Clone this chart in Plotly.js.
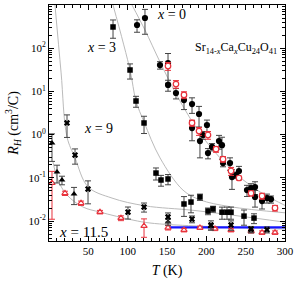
<!DOCTYPE html>
<html><head><meta charset="utf-8">
<script src="https://cdn.plot.ly/plotly-3.0.1.min.js"></script>
<style>html,body{margin:0;padding:0;background:#fff}</style>
</head><body><div id="chart" style="width:295px;height:282px"></div>
<script>
// x = 0 (black filled circles)
const x0_T = [111.9,122.0,141.1,151.3,151.3,161.4,171.6,181.8,190.7,181.8,200.8,195.8,191.9,202.1,207.2,216.1,219.9,221.2,230.1,232.6,237.7,241.5,251.7,256.8,261.9,261.9,270.8,277.1,282.2];
const x0_R = [344,500,40.8,45.4,14.1,9.2,6.3,5.1,3.0,1.42,1.67,0.98,0.71,0.375,0.52,0.71,0.57,0.22,0.22,0.104,0.116,0.144,0.052,0.058,0.061,0.036,0.029,0.034,0.032];
const x0_err = [110,290,8,30,4,2.5,2.5,2,1.5,0.7,0.5,0.2,0.42,0.1,0.1,0.25,0.3,0.04,0.07,0.05,0.02,0.04,0.015,0.015,0.02,0.015,0.01,0.008,0.006];
// x = 0 (red open circles)
const x0r_T = [151.3,161.4,171.6,181.8,190.7,202.1,212.3,221.2,231.4,241.5,256.8,270.8,287.3];
const x0r_R = [38.7,14.8,8.3,1.86,1.21,0.98,0.46,0.27,0.144,0.099,0.044,0.038,0.020];
const x0r_err = [8,3,1.5,0.3,0.25,0.2,0.07,0.04,0.03,0.01,0.006,0.006,0.003];
// x = 3 (black squares)
const x3_T = [81.4,103.0,110.6,120.8,136.0,142.4,151.3,171.6,180.5,191.9,202.1,208.5,219.9,226.3,231.4,247.9,260.6];
const x3_R = [310,31.3,6.0,1.86,0.129,0.089,0.094,0.0248,0.0275,0.036,0.017,0.019,0.016,0.016,0.016,0.013,0.0117];
const x3_err = [140,12,1.7,0.8,0.04,0.025,0.025,0.012,0.012,0.006,0.003,0.003,0.005,0.005,0.005,0.005,0.003];
// x = 9 (bow-tie crosses)
const x9_T = [22.9,33.1,49.6,100.4,120.8,151.3,181.8,205.9,231.4,256.8,277.1];
const x9_R = [1.86,0.337,0.055,0.0161,0.0211,0.0124,0.0111,0.0081,0.0081,0.0065,0.0063];
const x9_err = [1.0,0.13,0.03,0.005,0.005,0.003,0.002,0.002,0.002,0.001,0.001];
// x = 11.5 (black triangles)
const x11_T = [3.8,10.2,16.5,31.8,151.3,205.9,256.8];
const x11_R = [0.64,0.136,0.089,0.042,0.0095,0.0075,0.0063];
const x11_err = [0.4,0.06,0.02,0.018,0.0015,0.001,0.001];
// x = 11.5 (red open triangles)
const x11r_T = [3.8,20.3,40.7,64.8,91.5,120.8,151.3,171.6,191.9,211.0,231.4,257.0,270.8,287.3];
const x11r_R = [0.076,0.044,0.026,0.0161,0.0117,0.0077,0.0070,0.0062,0.0070,0.0066,0.0062,0.0058,0.0054,0.0054];
const x11r_err = [0.065,0.005,0.003,0.0015,0.0015,0.0035,0.0008,0.0006,0.0006,0.0006,0.0006,0.0005,0.0005,0.0005];
// grey fit curves
const fitA_T = [105.5,122,141.1,160.2,179.2,198.3,217.4,236.4,255.5,274.6,300];
const fitA_R = [1000,263,48,9.7,2.42,0.75,0.29,0.129,0.068,0.040,0.023];
const fitB_T = [81.4,103,110.6,120.8,141.1,170.3,191.9,230.1,300];
const fitB_R = [1000,31.3,6.0,1.96,0.29,0.052,0.031,0.0215,0.0155];
const fitC_T = [7.6,15.3,22.9,33.1,49.6,80.1,122,185.6,300];
const fitC_R = [1000,28,0.88,0.29,0.062,0.034,0.0225,0.0175,0.0094];
const fitD_T = [5.1,11.4,22.9,43.2,64.8,106.8,128.4,185.6,300];
const fitD_R = [0.232,0.089,0.040,0.0211,0.0161,0.0105,0.0090,0.0077,0.0065];
// blue line
const blue_T = [151.3,300];
const blue_R = [0.0071,0.0071];

const yTickVals = [0.01,0.1,1,10,100,1000];
const yTickText = ['10<sup>-2</sup>','10<sup>-1</sup>','10<sup>0</sup>','10<sup>1</sup>','10<sup>2</sup>','10<sup>3</sup>'];
const xTickVals = [50,100,150,200,250,300];

const yMinor = [];
[0.001,0.01,0.1,1,10,100].forEach(d=>{for(let k=2;k<=9;k++) yMinor.push(d*k);});

const serif = 'Liberation Serif, Times New Roman, serif';
function fit(T,R){return {x:T,y:R,mode:'lines',line:{color:'#bbbbbb',width:1,shape:'spline'},hoverinfo:'skip'};}
function pts(T,R,E,sym,col,fill,size,ecol){
  return {x:T,y:R,mode:'markers',
    marker:{symbol:sym,size:size,color:fill?col:'#ffffff',line:{color:col,width:fill?0:1.2}},
    error_y:{type:'data',array:E,visible:true,color:ecol,thickness:1,width:3}};
}
const data = [
  fit(fitA_T,fitA_R), fit(fitB_T,fitB_R), fit(fitC_T,fitC_R), fit(fitD_T,fitD_R),
  {x:blue_T,y:blue_R,mode:'lines',line:{color:'#1414ff',width:2.2}},
  pts(x11r_T,x11r_R,x11r_err,'triangle-up','#e8323c',false,5.5,'#e8323c'),
  pts(x11_T,x11_R,x11_err,'triangle-up','#000',true,6,'#444'),
  pts(x9_T,x9_R,x9_err,'x','#000',true,5.5,'#444'),
  pts(x3_T,x3_R,x3_err,'square','#000',true,5.5,'#444'),
  pts(x0_T,x0_R,x0_err,'circle','#000',true,6.2,'#444'),
  pts(x0r_T,x0r_R,x0r_err,'circle','#e8323c',false,5.5,'#e8323c')
];
const axCommon = {showline:true,linecolor:'#000',linewidth:1,mirror:'ticks',ticks:'inside',ticklen:5,tickcolor:'#000',showgrid:false,zeroline:false,tickfont:{family:serif,size:11,color:'#000'}};
const layout = {
  width:295,height:282,margin:{l:49,r:10,t:5,b:41},paper_bgcolor:'#fff',plot_bgcolor:'#fff',showlegend:false,
  font:{family:serif,color:'#000'},
  xaxis:Object.assign({},axCommon,{range:[0,300],tickmode:'array',tickvals:xTickVals,
    minor:{dtick:10,tick0:0,ticks:'inside',ticklen:3,tickcolor:'#000'},
    title:{text:'<i>T</i> (K)',font:{family:serif,size:14,color:'#000'},standoff:8}}),
  yaxis:Object.assign({},axCommon,{type:'log',range:[Math.log10(0.00345),3],tickmode:'array',tickvals:yTickVals,ticktext:yTickText,
    minor:{tickmode:'array',tickvals:yMinor,ticks:'inside',ticklen:3,tickcolor:'#000'},
    title:{text:'<i>R</i><sub><i>H</i></sub> (cm<sup>3</sup>/C)',font:{family:serif,size:14,color:'#000'},standoff:6}}),
  annotations:[
    {xref:'paper',yref:'paper',x:0.449,y:0.958,xanchor:'left',yanchor:'middle',showarrow:false,text:'<i>x</i> = 0',font:{family:serif,size:14,color:'#000'}},
    {xref:'paper',yref:'paper',x:0.153,y:0.818,xanchor:'left',yanchor:'middle',showarrow:false,text:'<i>x</i> = 3',font:{family:serif,size:14,color:'#000'}},
    {xref:'paper',yref:'paper',x:0.14,y:0.475,xanchor:'left',yanchor:'middle',showarrow:false,text:'<i>x</i> = 9',font:{family:serif,size:14,color:'#000'}},
    {xref:'paper',yref:'paper',x:0.034,y:0.038,xanchor:'left',yanchor:'middle',showarrow:false,text:'<i>x</i> = 11.5',font:{family:serif,size:15,color:'#000'}},
    {xref:'paper',yref:'paper',x:0.61,y:0.818,xanchor:'left',yanchor:'middle',showarrow:false,text:'Sr<sub>14-<i>x</i></sub>Ca<sub><i>x</i></sub>Cu<sub>24</sub>O<sub>41</sub>',font:{family:serif,size:12,color:'#000'}}
  ]
};
Plotly.newPlot('chart',data,layout,{staticPlot:true,displayModeBar:false});
</script></body></html>
